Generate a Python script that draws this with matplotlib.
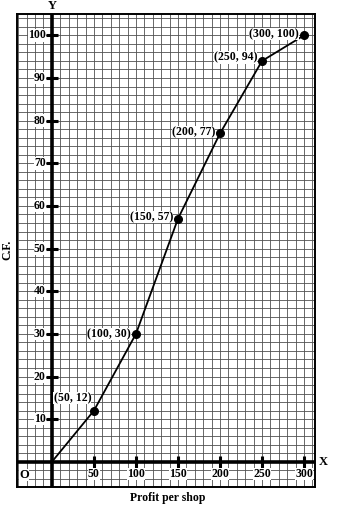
import matplotlib
matplotlib.use("Agg")
import matplotlib.pyplot as plt
import numpy as np
from matplotlib.transforms import offset_copy

profit = [0, 50, 100, 150, 200, 250, 300]
cf = [0, 12, 30, 57, 77, 94, 100]
x_ticks = [50, 100, 150, 200, 250, 300]
y_ticks = [10, 20, 30, 40, 50, 60, 70, 80, 90, 100]

plt.rcParams['font.family'] = ['Liberation Serif', 'DejaVu Serif']
plt.rcParams['font.weight'] = 'bold'

W, H = 337, 509
fig = plt.figure(figsize=(W / 100, H / 100), dpi=100)
fig.patch.set_facecolor('white')
L, R, T, B = 17, 315, 14, 487
ax = fig.add_axes([L / W, (H - B) / H, (R - L) / W, (B - T) / H])

xmin, xmax = -41.5, 313
ymin, ymax = -5.9, 105
ax.set_xlim(xmin, xmax)
ax.set_ylim(ymin, ymax)

# graph-paper grid
for gx in np.arange(-40, xmax, 10):
    ax.axvline(gx, color='#505050', lw=0.6, zorder=1)
for gy in np.arange(-4, ymax, 2):
    ax.axhline(gy, color='#505050', lw=0.6, zorder=1)

# main axes
ax.axhline(0, color='black', lw=2.6, zorder=3)
ax.axvline(0, color='black', lw=2.6, zorder=3)

for s in ax.spines.values():
    s.set_linewidth(1.4)
    s.set_color('black')
ax.set_xticks([])
ax.set_yticks([])

# tick marks on axes
ax.plot(x_ticks, [0] * len(x_ticks), ls='none', marker='|', ms=8, mew=2.2, color='black', zorder=4)
ax.plot([0] * len(y_ticks), y_ticks, ls='none', marker='_', ms=8, mew=2.2, color='black', zorder=4)

fs = 8.5
for v in y_ticks:
    t = offset_copy(ax.transData, fig=fig, x=-4.5, y=0, units='points')
    ax.text(0, v, str(v), transform=t, ha='right', va='center', fontsize=fs,
            fontweight='bold', zorder=5,
            bbox=dict(facecolor='white', edgecolor='none', pad=0.2))
for v in x_ticks:
    t = offset_copy(ax.transData, fig=fig, x=0, y=-4.5, units='points')
    ax.text(v, 0, str(v), transform=t, ha='center', va='top', fontsize=fs,
            fontweight='bold', zorder=5,
            bbox=dict(facecolor='white', edgecolor='none', pad=0.2))

t = offset_copy(ax.transData, fig=fig, x=-20, y=-5, units='points')
ax.text(0, 0, 'O', transform=t, ha='center', va='top', fontsize=9, fontweight='bold', zorder=5,
        bbox=dict(facecolor='white', edgecolor='none', pad=0.2))

# curve
ax.plot(profit, cf, color='black', lw=1.3, zorder=6)
ax.plot(profit[1:], cf[1:], ls='none', marker='o', ms=5.5, color='black', zorder=7)

# point labels
offsets = {50: (-2, 9), 100: (-3.5, 0), 150: (-3.5, 1), 200: (-3.5, 1), 250: (-3.5, 2.5), 300: (-3.5, 1)}
for x, y in zip(profit[1:], cf[1:]):
    dx, dy = offsets[x]
    t = offset_copy(ax.transData, fig=fig, x=dx, y=dy, units='points')
    ax.text(x, y, f'({x}, {y})', transform=t, ha='right', va='center', fontsize=fs,
            fontweight='bold', zorder=8,
            bbox=dict(facecolor='white', edgecolor='none', pad=0.1))

# axis name labels
fig.text(323 / W, 1 - 462 / H, 'X', ha='center', va='center', fontsize=9, fontweight='bold')
fig.text(52 / W, 1 - 6 / H, 'Y', ha='center', va='center', fontsize=9, fontweight='bold')
fig.text(7 / W, 1 - 250 / H, 'C.F.', ha='center', va='center', rotation=90, fontsize=8.5, fontweight='bold')
fig.text(168 / W, 1 - 498 / H, 'Profit per shop', ha='center', va='center', fontsize=8.5, fontweight='bold')

fig.savefig('out.png', dpi=100, facecolor='white')
